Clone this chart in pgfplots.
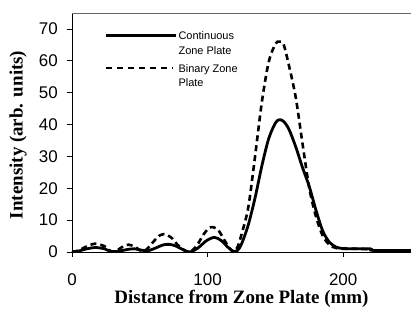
\documentclass[border=0pt]{standalone}
\usepackage{fontspec}
\setmainfont{Liberation Sans}
\newfontfamily\serifb{Liberation Serif}
\usepackage{pgfplots}
\pgfplotsset{compat=1.18}
\pgfplotsset{
  solidleg/.style={legend image code/.code={\draw[##1] (0bp,0bp) -- (70bp,0bp);}},
  dashleg/.style={legend image code/.code={\draw[##1] (0bp,0bp) -- (67bp,0bp); \path (0bp,9.2bp);}},
}
\begin{document}
\begin{tikzpicture}
\begin{axis}[
  scale only axis,
  width=339bp, height=239bp,
  xmin=0, xmax=250, ymin=0, ymax=75,
  axis lines=left,
  axis line style={-, line width=0.8bp, black},
  xtick={0,100,200}, ytick={0,10,...,70},
  tick align=outside,
  major tick length=5bp,
  tick style={black, line width=0.8bp},
  /pgf/number format/assume math mode=true,
  tick label style={font=\fontsize{17}{17}\selectfont, inner sep=0pt},
  yticklabel shift=9bp,
  xticklabel shift=16bp,
  xlabel={\serifb\bfseries Distance from Zone Plate (mm)},
  ylabel={\serifb\bfseries Intensity (arb. units)},
  label style={font=\fontsize{19}{19}\selectfont},
  x label style={at={(axis description cs:0.5,-0.1967)}, anchor=center},
  y label style={at={(axis description cs:-0.1593,0.49)}, anchor=center, rotate=0},
  legend style={at={(axis description cs:0.0973,0.931)}, anchor=north west,
    draw=none, fill=none, inner sep=0pt, outer sep=0pt,
    font=\fontsize{11}{11}\selectfont, row sep=2.1bp, column sep=1bp,
    nodes={inner sep=0pt}},
  legend cell align=left,
]
\coordinate (ll) at (rel axis cs:0,0);
\coordinate (ur) at (rel axis cs:1,1);
\draw[black!60, line width=0.6bp] (rel axis cs:0,1) -- (rel axis cs:1,1);

\addlegendimage{black, solid, line width=2.6bp, solidleg}
\addlegendentry{\rule[-1.9bp]{0pt}{12.4bp}Continuous}
\addlegendimage{empty legend}
\addlegendentry{\rule[-1.9bp]{0pt}{12.4bp}Zone Plate}
\addlegendimage{black, line width=2.4bp, dash pattern=on 6bp off 5bp, dashleg}
\addlegendentry{\rule[-1.9bp]{0pt}{12.4bp}Binary Zone}
\addlegendimage{empty legend}
\addlegendentry{\rule[-1.9bp]{0pt}{12.4bp}Plate}

% Binary zone plate (dashed)
\addplot[forget plot, black, line width=2.6bp, dash pattern=on 6bp off 4bp, smooth, tension=0.5] coordinates {
(0,0) (5,0.5) (10,1.6) (17,2.6) (24,1.8) (29,0.2) (33,0.5) (38,1.8) (42,2.3) (47,1.5)
(51,0.3) (55,0.8) (60,3.2) (64,5.0) (68,5.6) (73,4.6) (78,2.2) (83,0.5) (87,0)
(92,2.0) (97,5.5) (101,7.5) (104,7.8) (108,6.8) (112,4.0) (116,1.3) (119,0.1)
(122,1.5) (125,5.5) (130,14) (135,30) (140,47) (145,59.5) (150,65.3) (153,66)
(156,65.2) (160,58.5) (165,48.5) (170,34) (175,20) (180,11) (185,5) (190,2.2)
(195,1.2) (200,1.0) (210,1.0) (220,0.8) (225,0.4) (250,0.4)
};
% Continuous zone plate (solid)
\addplot[forget plot, black, line width=2.8bp, solid, smooth, tension=0.5] coordinates {
(0,0) (5,0.3) (10,0.9) (17,1.4) (24,1.0) (29,0.1) (35,0.3) (41,0.8) (46,1.0) (51,0.6)
(56,0.4) (62,1.3) (67,2.2) (72,2.4) (77,1.8) (82,0.7) (87,0) (93,1.3) (99,3.5)
(105,4.6) (110,3.6) (115,1.5) (119,0.2) (122,0.5) (125,2.5) (130,8.5) (135,17)
(140,27) (145,35.5) (150,40.5) (153,41.5) (156,41) (160,38.5) (165,33) (170,26.5)
(175,20.5) (180,13) (185,6.5) (190,3) (195,1.5) (200,1.1) (210,1.0) (220,1.0)
(222,0.5) (250,0.5)
};
\end{axis}
\path (ll) ++(-72bp,-57bp) coordinate (bbA);
\path (ur) ++(0bp,13bp) coordinate (bbB);
\pgfresetboundingbox
\path[use as bounding box] (bbA) rectangle (bbB);
\end{tikzpicture}
\end{document}
